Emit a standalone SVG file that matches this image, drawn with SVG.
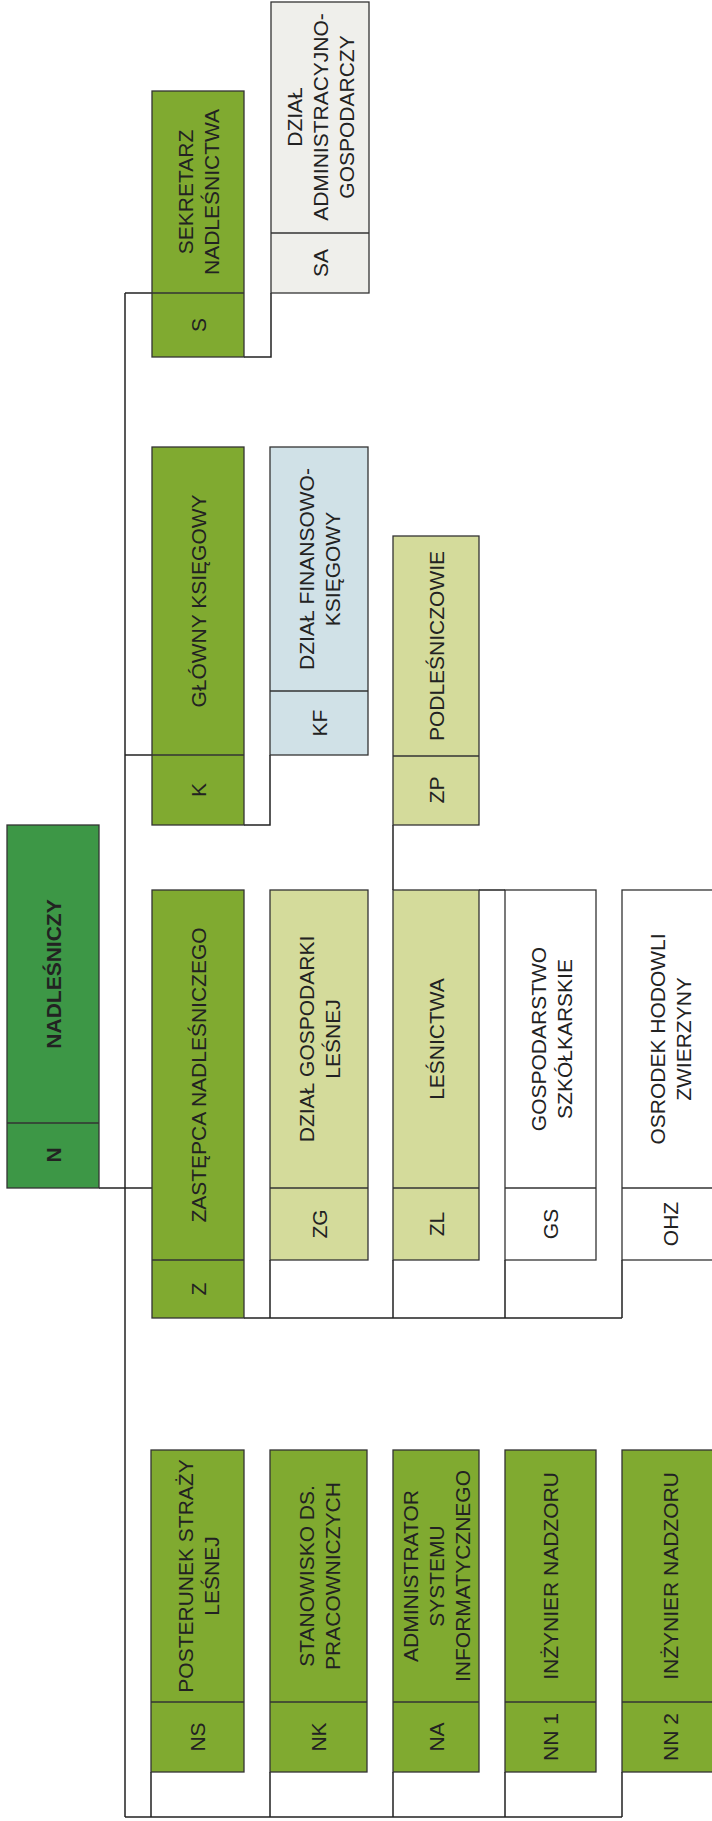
<svg xmlns="http://www.w3.org/2000/svg" width="712" height="1821" viewBox="0 0 712 1821">
<style>
.bx{stroke:#333;stroke-width:1.3}
.dv{stroke:#333;stroke-width:1.3}
.g1{fill:#3d9746}
.g2{fill:#80aa30}
.g3{fill:#d4db9b}
.bl{fill:#d0e1e7}
.gr{fill:#efefeb}
.wh{fill:#ffffff}
text{font-family:"Liberation Sans",Arial,sans-serif;font-size:21px;fill:#222;text-anchor:middle;dominant-baseline:central}
.b{font-weight:bold}
.cn{fill:none;stroke:#222;stroke-width:1.5}
</style>
<rect width="712" height="1821" fill="#fff"/>
<g id="connectors" class="cn">
<path d="M125,293V1817"/>
<path d="M125,293H152"/>
<path d="M271,293V357H244"/>
<path d="M125,755H152"/>
<path d="M270,755V825H244"/>
<path d="M393,825V890"/>
<path d="M99,1188H152"/>
<path d="M479,890H505"/>
<path d="M270,1260V1318M393,1260V1318M505,1260V1318M622,1260V1318M244,1318H622"/>
<path d="M151,1772V1817M270,1772V1817M393,1772V1817M505,1772V1817M622,1772V1817M125,1817H622"/>
</g>
<g id="node-S">
<rect class="bx g2" x="152" y="91" width="92" height="266"/>
<line class="dv" x1="152" y1="293" x2="244" y2="293"/>
<text transform="translate(198,192) rotate(-90)"><tspan x="0" y="-13">SEKRETARZ</tspan><tspan x="0" y="13">NADLEŚNICTWA</tspan></text>
<text transform="translate(198,325) rotate(-90)">S</text>
</g>
<g id="node-SA">
<rect class="bx gr" x="271" y="2" width="98" height="291"/>
<line class="dv" x1="271" y1="233" x2="369" y2="233"/>
<text transform="translate(320,117) rotate(-90)"><tspan x="0" y="-26">DZIAŁ</tspan><tspan x="0" y="0">ADMINISTRACYJNO-</tspan><tspan x="0" y="26">GOSPODARCZY</tspan></text>
<text transform="translate(320,263) rotate(-90)">SA</text>
</g>
<g id="node-K">
<rect class="bx g2" x="152" y="447" width="92" height="378"/>
<line class="dv" x1="152" y1="755" x2="244" y2="755"/>
<text transform="translate(198,601) rotate(-90)">GŁÓWNY KSIĘGOWY</text>
<text transform="translate(198,790) rotate(-90)">K</text>
</g>
<g id="node-KF">
<rect class="bx bl" x="270" y="447" width="98" height="308"/>
<line class="dv" x1="270" y1="691" x2="368" y2="691"/>
<text transform="translate(319,569) rotate(-90)"><tspan x="0" y="-13">DZIAŁ  FINANSOWO-</tspan><tspan x="0" y="13">KSIĘGOWY</tspan></text>
<text transform="translate(319,723) rotate(-90)">KF</text>
</g>
<g id="node-ZP">
<rect class="bx g3" x="393" y="536" width="86" height="289"/>
<line class="dv" x1="393" y1="756" x2="479" y2="756"/>
<text transform="translate(436,646) rotate(-90)">PODLEŚNICZOWIE</text>
<text transform="translate(436,790) rotate(-90)">ZP</text>
</g>
<g id="node-N">
<rect class="bx g1" x="7" y="825" width="92" height="363"/>
<line class="dv" x1="7" y1="1123" x2="99" y2="1123"/>
<text class="b" transform="translate(53,974) rotate(-90)">NADLEŚNICZY</text>
<text class="b" transform="translate(53,1155) rotate(-90)">N</text>
</g>
<g id="node-Z">
<rect class="bx g2" x="152" y="890" width="92" height="428"/>
<line class="dv" x1="152" y1="1260" x2="244" y2="1260"/>
<text transform="translate(198,1075) rotate(-90)">ZASTĘPCA NADLEŚNICZEGO</text>
<text transform="translate(198,1289) rotate(-90)">Z</text>
</g>
<g id="node-ZG">
<rect class="bx g3" x="270" y="890" width="98" height="370"/>
<line class="dv" x1="270" y1="1188" x2="368" y2="1188"/>
<text transform="translate(319,1039) rotate(-90)"><tspan x="0" y="-13">DZIAŁ  GOSPODARKI</tspan><tspan x="0" y="13">LEŚNEJ</tspan></text>
<text transform="translate(319,1224) rotate(-90)">ZG</text>
</g>
<g id="node-ZL">
<rect class="bx g3" x="393" y="890" width="86" height="370"/>
<line class="dv" x1="393" y1="1188" x2="479" y2="1188"/>
<text transform="translate(436,1039) rotate(-90)">LEŚNICTWA</text>
<text transform="translate(436,1224) rotate(-90)">ZL</text>
</g>
<g id="node-GS">
<rect class="bx wh" x="505" y="890" width="91" height="370"/>
<line class="dv" x1="505" y1="1188" x2="596" y2="1188"/>
<text transform="translate(550.5,1039) rotate(-90)"><tspan x="0" y="-13">GOSPODARSTWO</tspan><tspan x="0" y="13">SZKÓŁKARSKIE</tspan></text>
<text transform="translate(550.5,1224) rotate(-90)">GS</text>
</g>
<g id="node-OHZ">
<rect class="bx wh" x="622" y="890" width="96" height="370"/>
<line class="dv" x1="622" y1="1188" x2="718" y2="1188"/>
<text transform="translate(670,1039) rotate(-90)"><tspan x="0" y="-13">OSRODEK HODOWLI</tspan><tspan x="0" y="13">ZWIERZYNY</tspan></text>
<text transform="translate(670,1224) rotate(-90)">OHZ</text>
</g>
<g id="node-NS">
<rect class="bx g2" x="151" y="1450" width="93" height="322"/>
<line class="dv" x1="151" y1="1702" x2="244" y2="1702"/>
<text transform="translate(197.5,1576) rotate(-90)"><tspan x="0" y="-13">POSTERUNEK STRAŻY</tspan><tspan x="0" y="13">LEŚNEJ</tspan></text>
<text transform="translate(197.5,1737) rotate(-90)">NS</text>
</g>
<g id="node-NK">
<rect class="bx g2" x="270" y="1450" width="97" height="322"/>
<line class="dv" x1="270" y1="1702" x2="367" y2="1702"/>
<text transform="translate(318.5,1576) rotate(-90)"><tspan x="0" y="-13">STANOWISKO DS.</tspan><tspan x="0" y="13">PRACOWNICZYCH</tspan></text>
<text transform="translate(318.5,1737) rotate(-90)">NK</text>
</g>
<g id="node-NA">
<rect class="bx g2" x="393" y="1450" width="86" height="322"/>
<line class="dv" x1="393" y1="1702" x2="479" y2="1702"/>
<text transform="translate(436,1576) rotate(-90)"><tspan x="0" y="-26">ADMINISTRATOR</tspan><tspan x="0" y="0">SYSTEMU</tspan><tspan x="0" y="26">INFORMATYCZNEGO</tspan></text>
<text transform="translate(436,1737) rotate(-90)">NA</text>
</g>
<g id="node-NN1">
<rect class="bx g2" x="505" y="1450" width="91" height="322"/>
<line class="dv" x1="505" y1="1702" x2="596" y2="1702"/>
<text transform="translate(550.5,1576) rotate(-90)">INŻYNIER NADZORU</text>
<text transform="translate(550.5,1737) rotate(-90)">NN 1</text>
</g>
<g id="node-NN2">
<rect class="bx g2" x="622" y="1450" width="96" height="322"/>
<line class="dv" x1="622" y1="1702" x2="718" y2="1702"/>
<text transform="translate(670,1576) rotate(-90)">INŻYNIER NADZORU</text>
<text transform="translate(670,1737) rotate(-90)">NN 2</text>
</g>
</svg>
